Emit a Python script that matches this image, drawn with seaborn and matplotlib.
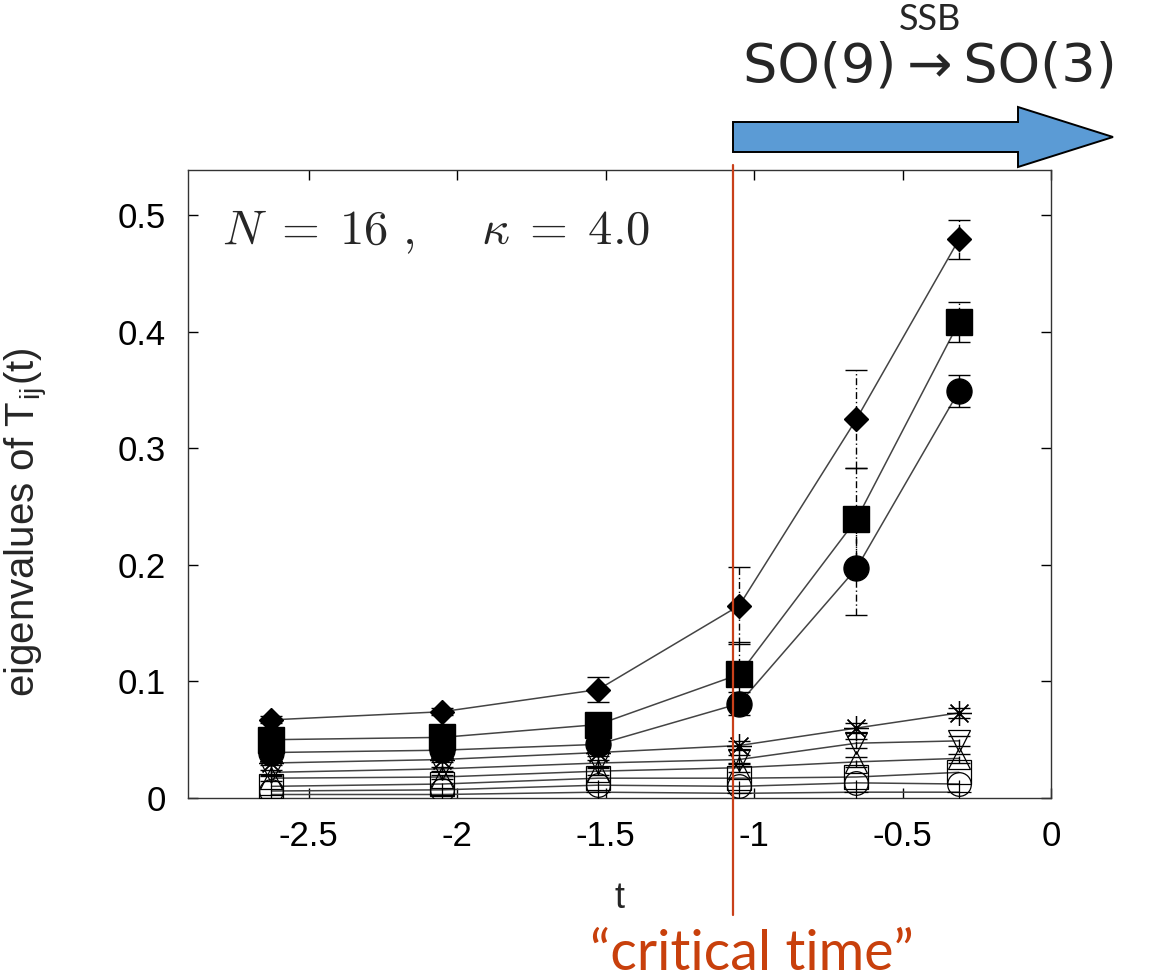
import matplotlib
matplotlib.use('Agg')
import matplotlib.pyplot as plt
from matplotlib.patches import Polygon
import seaborn as sns
import pandas as pd
import numpy as np

# data
t = [-2.625, -2.05, -1.525, -1.05, -0.655, -0.31]

ev_diamond = [0.067, 0.074, 0.093, 0.165, 0.325, 0.479]
ev_square = [0.050, 0.052, 0.063, 0.106, 0.239, 0.408]
ev_circle = [0.039, 0.041, 0.046, 0.081, 0.197, 0.349]
ev_star = [0.030, 0.033, 0.039, 0.045, 0.060, 0.073]
ev_tridown = [0.022, 0.025, 0.030, 0.033, 0.047, 0.049]
ev_triup = [0.017, 0.018, 0.023, 0.026, 0.031, 0.034]
ev_osquare = [0.010, 0.012, 0.017, 0.017, 0.018, 0.022]
ev_ocircle = [0.006, 0.007, 0.011, 0.010, 0.013, 0.012]
ev_plus = [0.003, 0.003, 0.005, 0.004, 0.005, 0.005]

err_diamond = [0.003, 0.003, 0.011, 0.033, 0.042, 0.017]
err_square = [0.003, 0.003, 0.006, 0.028, 0.044, 0.017]
err_circle = [0.002, 0.002, 0.004, 0.010, 0.040, 0.014]
err_small = [0.002, 0.002, 0.003, 0.004, 0.004, 0.004]

t_crit = -1.07
xticks = [-2.5, -2, -1.5, -1, -0.5, 0]
xticklabels = ['-2.5', '-2', '-1.5', '-1', '-0.5', '0']
yticks = [0, 0.1, 0.2, 0.3, 0.4, 0.5]
yticklabels = ['0', '0.1', '0.2', '0.3', '0.4', '0.5']

series = {
    'diamond': ev_diamond, 'square': ev_square, 'circle': ev_circle,
    'star': ev_star, 'tridown': ev_tridown, 'triup': ev_triup,
    'osquare': ev_osquare, 'ocircle': ev_ocircle, 'plus': ev_plus,
}
df = pd.DataFrame([(name, x, y) for name, vals in series.items() for x, y in zip(t, vals)],
                  columns=['series', 't', 'ev'])

sns.set_style('ticks')
plt.rcParams['font.family'] = ['Liberation Sans', 'DejaVu Sans']
plt.rcParams['mathtext.fontset'] = 'cm'
plt.rcParams['axes.unicode_minus'] = False

fig = plt.figure(figsize=(11.49, 9.8), dpi=100)
ax = fig.add_axes([188/1149, 182/980, 863/1149, 628/980])

# connecting lines
sns.lineplot(data=df, x='t', y='ev', hue='series', palette=['#444444']*9,
             legend=False, ax=ax, linewidth=1.1, sort=False, zorder=2)

# error bars
for vals, errs in [(ev_diamond, err_diamond), (ev_square, err_square), (ev_circle, err_circle),
                   (ev_star, err_small), (ev_tridown, err_small), (ev_triup, err_small)]:
    eb = ax.errorbar(t, vals, yerr=errs, fmt='none', ecolor='black', elinewidth=1.0,
                     capsize=8, capthick=1.0, zorder=3)
    eb[2][0].set_linestyle((0, (5, 2, 1, 2)))

# markers
filled = [(ev_diamond, 'D', 12.5), (ev_square, 's', 19), (ev_circle, 'o', 18)]
for vals, m, ms in filled:
    ax.plot(t, vals, ls='none', marker=m, ms=ms, color='black', zorder=5)

opened = [(ev_star, (8, 2, 0), 18), (ev_tridown, 'v', 16), (ev_triup, '^', 16),
          (ev_osquare, 's', 17), (ev_ocircle, 'o', 17), (ev_plus, '+', 17)]
for vals, m, ms in opened:
    ax.plot(t, vals, ls='none', marker=m, ms=ms, mfc='none', mec='black', mew=0.9, zorder=4)

ax.set_xlim(-2.906, 0)
ax.set_ylim(0, 0.5386)
ax.set_xticks(xticks)
ax.set_xticklabels(xticklabels)
ax.set_yticks(yticks)
ax.set_yticklabels(yticklabels)
ax.tick_params(direction='in', top=True, right=True, length=7, width=1,
               labelsize=25, pad=16, colors='black')
for s in ax.spines.values():
    s.set_linewidth(1.0)
    s.set_color('#333333')

ax.set_xlabel('t', fontsize=26, labelpad=20)
ax.set_ylabel(r'eigenvalues of T$_\mathregular{ij}$(t)', fontsize=29)
ax.yaxis.set_label_coords(-0.16, 0.44)

# critical time line
ax.plot([t_crit, t_crit], [-0.1003, 0.543], color='#C9401A', lw=1.6,
        clip_on=False, zorder=10)

fig.text(222/1149, 1 - 232/980, r'$N\;=\;16\ ,\quad\ \kappa\;=\;4.0$', fontsize=35,
         va='center', ha='left')

# SSB arrow
pts = [(733, 122), (1018, 122), (1018, 107), (1113, 137), (1018, 167), (1018, 152), (733, 152)]
arrow = Polygon([(x/1149, 1 - y/980) for x, y in pts], closed=True,
                transform=fig.transFigure, facecolor='#5B9BD5', edgecolor='black', lw=1.4)
fig.patches.append(arrow)

fig.text(930/1149, 1 - 66/980, 'SO(9)\u2009\u2192\u2009SO(3)', fontsize=39,
         family='DejaVu Sans', ha='center', va='center')
fig.text(930/1149, 1 - 19/980, 'SSB', fontsize=26, family='Lato', ha='center', va='center')

fig.text(752/1149, 1 - 970/980, '\u201ccritical time\u201d', fontsize=40, family='Lato',
         color='#C8400C', ha='center', va='baseline')

fig.savefig('out.png', dpi=100)
